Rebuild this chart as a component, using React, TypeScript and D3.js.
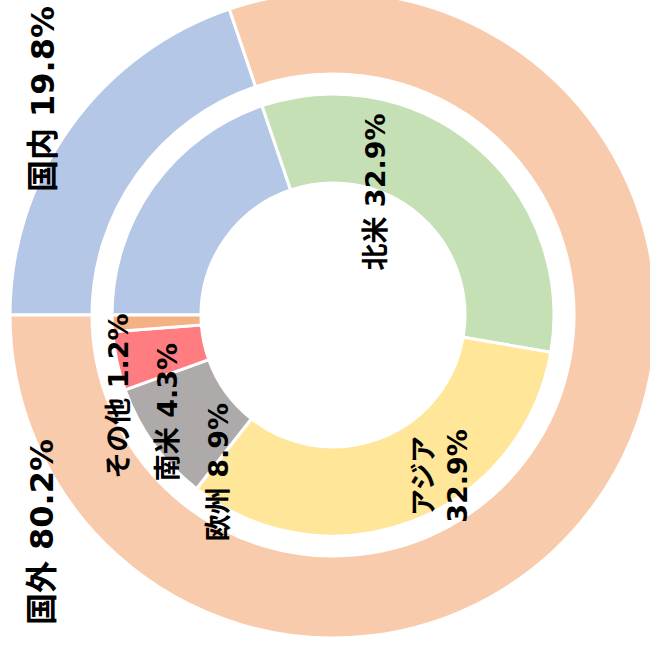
import React from "react";
import * as d3 from "d3";

const outerLabels = ["国内", "国外"];
const outerValues = [19.8, 80.2];
const outerColors = ["#b4c7e7", "#f8cbad"];

const innerLabels = ["国内", "北米", "アジア", "欧州", "南米", "その他"];
const innerValues = [19.8, 32.9, 32.9, 8.9, 4.3, 1.2];
const innerColors = ["#b4c7e7", "#c5e0b4", "#ffe699", "#aeaaaa", "#ff7c80", "#f4b183"];

// label layout (offset from centre, in px) — layout, not data
const outerLabelPos = [[-290, -216], [-291, 217]];
const innerLabelPos: (number[] | null)[] = [null, [42, -123], [107, 161], [-115, 157], [-166, 97], [-215, 81]];
const innerMultiline = [false, false, true, false, false, false];

const W = 650, H = 654;
const cx = 333, cy = 315;
const R_OUT = 323, R_OUT_IN = 241;
const R_IN = 221, R_IN_IN = 132;
const FONT = "'DejaVu Sans', 'Noto Sans CJK JP', sans-serif";

export default function App() {
  const pie = d3.pie<number>().sort(null).startAngle(-Math.PI / 2).endAngle(1.5 * Math.PI);
  const outerArcs = pie(outerValues);
  const innerArcs = pie(innerValues);
  const arcOuter = d3.arc<d3.PieArcDatum<number>>().innerRadius(R_OUT_IN).outerRadius(R_OUT);
  const arcInner = d3.arc<d3.PieArcDatum<number>>().innerRadius(R_IN_IN).outerRadius(R_IN);
  const fmt = (v: number) => `${v.toFixed(1)}%`;

  return (
    <svg width={W} height={H} style={{ position: "absolute", left: 0, top: 0 }} fontFamily={FONT}>
      <rect width={W} height={H} fill="#fff" />
      <g transform={`translate(${cx},${cy})`}>
        {outerArcs.map((a, i) => (
          <path key={"o" + i} d={arcOuter(a) || ""} fill={outerColors[i]} stroke="#fff" strokeWidth={3} />
        ))}
        {innerArcs.map((a, i) => (
          <path key={"i" + i} d={arcInner(a) || ""} fill={innerColors[i]} stroke="#fff" strokeWidth={3} />
        ))}
        {outerArcs.map((a, i) => {
          const [dx, dy] = outerLabelPos[i];
          return (
            <text key={"ot" + i} transform={`translate(${dx},${dy}) rotate(-90)`} textAnchor="middle"
              dominantBaseline="central" fontSize={32} fontWeight="bold" fill="#000">
              {`${outerLabels[i]} ${fmt(outerValues[i])}`}
            </text>
          );
        })}
        {innerArcs.map((a, i) => {
          const p = innerLabelPos[i];
          if (!p) return null;
          const [dx, dy] = p;
          if (innerMultiline[i]) {
            return (
              <text key={"it" + i} transform={`translate(${dx},${dy}) rotate(-90)`} textAnchor="middle"
                fontSize={27} fontWeight="bold" fill="#000">
                <tspan x={0} y={-17} dominantBaseline="central">{innerLabels[i]}</tspan>
                <tspan x={0} y={17} dominantBaseline="central">{fmt(innerValues[i])}</tspan>
              </text>
            );
          }
          return (
            <text key={"it" + i} transform={`translate(${dx},${dy}) rotate(-90)`} textAnchor="middle"
              dominantBaseline="central" fontSize={27} fontWeight="bold" fill="#000">
              {`${innerLabels[i]} ${fmt(innerValues[i])}`}
            </text>
          );
        })}
      </g>
    </svg>
  );
}
